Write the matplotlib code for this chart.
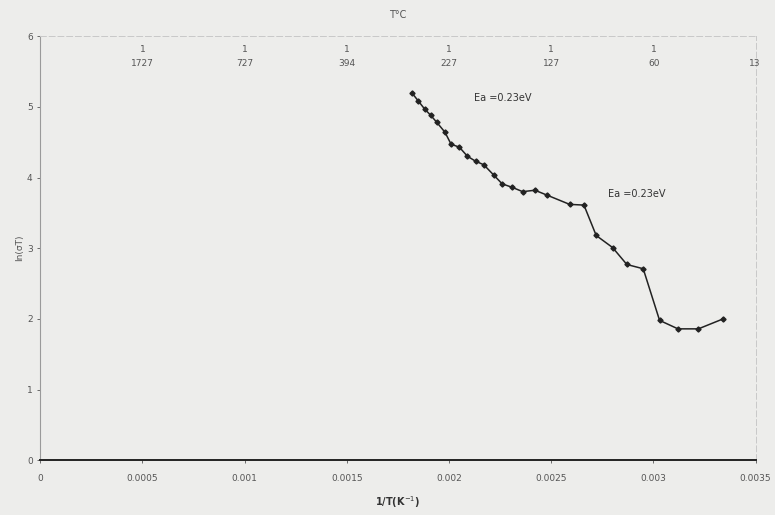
import matplotlib

matplotlib.use("Agg")
import matplotlib.pyplot as plt

# 1/T (K^-1) and ln(sigma T)
inv_t = [0.00182, 0.00185, 0.00188, 0.00191, 0.00194, 0.00198, 0.00201,
         0.00205, 0.00209, 0.00213, 0.00217, 0.00222, 0.00226, 0.00231,
         0.00236, 0.00242, 0.00248, 0.00259, 0.00266, 0.00272, 0.00280,
         0.00287, 0.00295, 0.00303, 0.00312, 0.00322, 0.00334]
ln_sig_t = [5.19, 5.08, 4.97, 4.88, 4.78, 4.64, 4.47, 4.43, 4.30, 4.23,
            4.18, 4.03, 3.91, 3.86, 3.80, 3.82, 3.75, 3.62, 3.61, 3.18,
            3.01, 2.77, 2.71, 1.98, 1.86, 1.86, 2.00]

x_ticks = [0, 0.0005, 0.001, 0.0015, 0.002, 0.0025, 0.003, 0.0035]
x_tick_labels = ["0", "0.0005", "0.001", "0.0015", "0.002", "0.0025", "0.003", "0.0035"]
y_ticks = [0, 1, 2, 3, 4, 5, 6]

# top scale: temperature in deg C at 1/(T+273)
top_celsius = [1727, 727, 394, 227, 127, 60, 13]
top_labels = ["1\n1727", "1\n727", "1\n394", "1\n227", "1\n127", "1\n60", " \n13"]

annotations = [("Ea =0.23eV", 0.00212, 5.13), ("Ea =0.23eV", 0.00278, 3.76)]

paper = "#ededeb"
ink = "#555555"

fig = plt.figure(figsize=(7.75, 5.15), dpi=100, facecolor=paper)
ax = fig.add_axes([0.052, 0.106, 0.923, 0.824], facecolor=paper)

ax.plot(inv_t, ln_sig_t, color="#222222", lw=1.1, marker="D", ms=2.6,
        mfc="#222222", mec="#222222")

ax.set_xlim(0, 0.0035)
ax.set_ylim(0, 6)
ax.set_xticks(x_ticks)
ax.set_xticklabels(x_tick_labels)
ax.set_yticks(y_ticks)
ax.tick_params(axis="both", labelsize=6.5, colors=ink, length=2, width=0.6)
ax.tick_params(axis="x", pad=8)

for side in ("top", "right"):
    ax.spines[side].set_color("#c8c8c8")
    ax.spines[side].set_linewidth(0.7)
    ax.spines[side].set_linestyle((0, (6, 3)))
ax.spines["left"].set_color("#9a9a9a")
ax.spines["left"].set_linewidth(0.8)
ax.spines["bottom"].set_color("#222222")
ax.spines["bottom"].set_linewidth(1.4)

ax.set_xlabel("1/T(K$^{-1}$)", fontsize=7, color="#333333", fontweight="bold",
              labelpad=8)
ax.set_ylabel("ln(σT)", fontsize=6.5, color=ink, labelpad=2)
ax.set_title("T°C", fontsize=7, color=ink, pad=13)

for t_c, lab in zip(top_celsius, top_labels):
    ax.text(1.0 / (t_c + 273), 0.978, lab, transform=ax.get_xaxis_transform(),
            ha="center", va="top", fontsize=6.5, color=ink, linespacing=1.7)

for text, x, y in annotations:
    ax.text(x, y, text, fontsize=7, color="#333333", ha="left", va="center")

fig.savefig("out.png", dpi=100, facecolor=paper)
